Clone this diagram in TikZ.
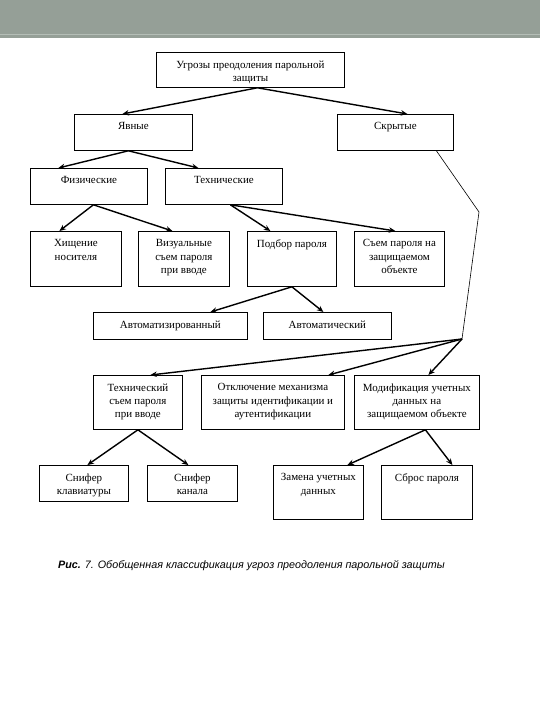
\documentclass[tikz,border=0pt]{standalone}
\usepackage{fontspec}
\setmainfont{Liberation Serif}
\newfontfamily\capfont{Liberation Sans}
\usetikzlibrary{arrows.meta}
\definecolor{bandgray}{HTML}{959F97}
\definecolor{bandline}{HTML}{B4BDB6}
\tikzset{
  box/.style 2 args={draw,line width=0.8bp,anchor=north west,inner sep=0,minimum width=#1,minimum height=#2},
  txt/.style={anchor=north,align=center,inner xsep=2bp,inner ysep=8.5bp,font=\fontsize{11}{13.3}\selectfont},
  arr/.style={-{Stealth[length=6.5bp,width=5.5bp]},line width=1.4bp},
  thin/.style={line width=0.6bp}
}
\begin{document}
\begin{tikzpicture}[x=1bp,y=-1bp]
\useasboundingbox (0,0) rectangle (540,720);
\fill[white] (0,0) rectangle (540,720);
\fill[bandgray] (0,0) rectangle (540,38);
\draw[bandline,line width=1bp] (0,35) -- (540,35);
% level 1-2
\node[box={188bp}{35bp},label={[txt]north:Угрозы преодоления парольной\\защиты}] (root) at (156,52) {};
\node[box={118bp}{36bp},label={[txt]north:Явные}] (expl) at (74,114) {};
\node[box={116bp}{36bp},label={[txt]north:Скрытые}] (hid) at (337,114) {};
\node[box={117bp}{36bp},label={[txt]north:Физические}] (phys) at (30,168) {};
\node[box={117bp}{36bp},label={[txt]north:Технические}] (tech) at (165,168) {};
% level 3
\node[box={91bp}{55bp},label={[txt]north:Хищение\\носителя}] (theft) at (30,231) {};
\node[box={91bp}{55bp},label={[txt]north:Визуальные\\съем пароля\\при вводе}] (visual) at (138,231) {};
\node[box={89bp}{55bp},label={[txt]north:Подбор пароля}] (guess) at (247,231) {};
\node[box={90bp}{55bp},label={[txt]north:Съем пароля на\\защищаемом\\объекте}] (onsite) at (354,231) {};
% level 4
\node[box={154bp}{27bp},label={[txt]north:Автоматизированный}] (semi) at (93,312) {};
\node[box={128bp}{27bp},label={[txt]north:Автоматический}] (auto) at (263,312) {};
% hidden branch
\node[box={89bp}{54bp},label={[txt]north:Технический\\съем пароля\\при вводе}] (techgrab) at (93,375) {};
\node[box={143bp}{54bp},label={[txt]north:Отключение механизма\\защиты идентификации и\\аутентификации}] (disable) at (201,375) {};
\node[box={125bp}{54bp},label={[txt]north:Модификация учетных\\данных на\\защищаемом объекте}] (modify) at (354,375) {};
\node[box={89bp}{36bp},label={[txt]north:Снифер\\клавиатуры}] (keysniff) at (39,465) {};
\node[box={90bp}{36bp},label={[txt]north:Снифер\\канала}] (chansniff) at (147,465) {};
\node[box={90bp}{54bp},label={[txt]north:Замена учетных\\данных}] (replace) at (273,465) {};
\node[box={91bp}{54bp},label={[txt]north:Сброс пароля}] (reset) at (381,465) {};
\coordinate (bend) at (479,212);
\coordinate (hub) at (462,339);
% connectors
\draw[arr] ([xshift=7bp]root.south) -- ([xshift=-11bp]expl.north);
\draw[arr] ([xshift=7bp]root.south) -- ([xshift=12bp]hid.north);
\draw[arr] ([xshift=-5bp]expl.south) -- ([xshift=-30.5bp]phys.north);
\draw[arr] ([xshift=-5bp]expl.south) -- ([xshift=-25.5bp]tech.north);
\draw[arr] ([xshift=4.5bp]phys.south) -- ([xshift=-16.5bp]theft.north);
\draw[arr] ([xshift=4.5bp]phys.south) -- ([xshift=-11.5bp]visual.north);
\draw[arr] ([xshift=6.5bp]tech.south) -- ([xshift=-21.5bp]guess.north);
\draw[arr] ([xshift=6.5bp]tech.south) -- ([xshift=-4bp]onsite.north);
\draw[arr] (guess.south) -- ([xshift=40bp]semi.north);
\draw[arr] (guess.south) -- ([xshift=-4bp]auto.north);
\draw[thin] ([xshift=41bp]hid.south) -- (bend) -- (hub);
\draw[arr] (hub) -- ([xshift=12.5bp]techgrab.north);
\draw[arr] (hub) -- ([xshift=55.5bp]disable.north);
\draw[arr] (hub) -- ([xshift=11.5bp]modify.north);
\draw[arr] (techgrab.south) -- ([xshift=3.5bp]keysniff.north);
\draw[arr] (techgrab.south) -- ([xshift=-4bp]chansniff.north);
\draw[arr] ([xshift=8.5bp]modify.south) -- ([xshift=29bp]replace.north);
\draw[arr] ([xshift=8.5bp]modify.south) -- ([xshift=25.5bp]reset.north);
% caption
\node[font=\capfont\itshape\fontsize{10.8}{12}\selectfont,anchor=west,inner sep=0] (caption) at (58,566) {\textbf{Рис.} 7. Обобщенная классификация угроз преодоления парольной защиты};
\end{tikzpicture}
\end{document}
